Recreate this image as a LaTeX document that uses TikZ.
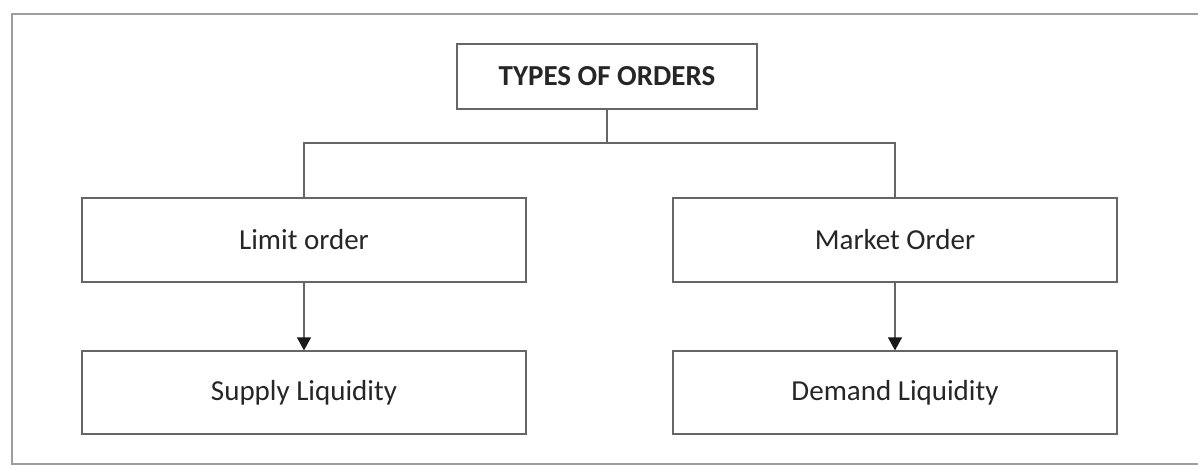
\documentclass[tikz,border=0pt]{standalone}
\usepackage{fontspec}
\setmainfont{Carlito}
\usetikzlibrary{
  arrows.meta,
  positioning
}

\begin{document}
\begin{tikzpicture}[
  x=1pt, y=-1pt,
  every node/.style={
    font=\fontsize{29}{34}\selectfont,
    text=black!85
  },
  orderbox/.style={
    draw=black!60,
    line width=1.2pt,
    fill=white,
    minimum width=444pt,
    minimum height=84pt,
    inner sep=0pt
  },
  link/.style={
    draw=black!60,
    line width=1.2pt
  },
  tip/.style={
    -{Triangle[length=13pt, width=14pt, color=black!90, fill=black!90]}
  }
]
\useasboundingbox (0,0) rectangle (1198,466);
\draw[black!38, line width=2.4pt] (1198,14) -- (12,14) -- (12,464) -- (1198,464);
\node[orderbox, minimum width=300pt, minimum height=65pt, font=\fontsize{29}{34}\selectfont\bfseries]
  (types) at (607,76.5) {TYPES OF ORDERS};
\node[orderbox] (limit) at (304,240) {Limit order};
\node[orderbox] (market) at (895,240) {Market Order};
\node[orderbox, minimum height=83pt] (supply) at (304,392.5) {Supply Liquidity};
\node[orderbox, minimum height=83pt] (demand) at (895,392.5) {Demand Liquidity};
% tree lines
\coordinate (split) at (607,143);
\draw[link] (types.south) -- (split) -| (limit.north);
\draw[link] (split) -| (market.north);
% arrows
\draw[link, tip] (limit) -- (supply);
\draw[link, tip] (market) -- (demand);
\end{tikzpicture}
\end{document}
